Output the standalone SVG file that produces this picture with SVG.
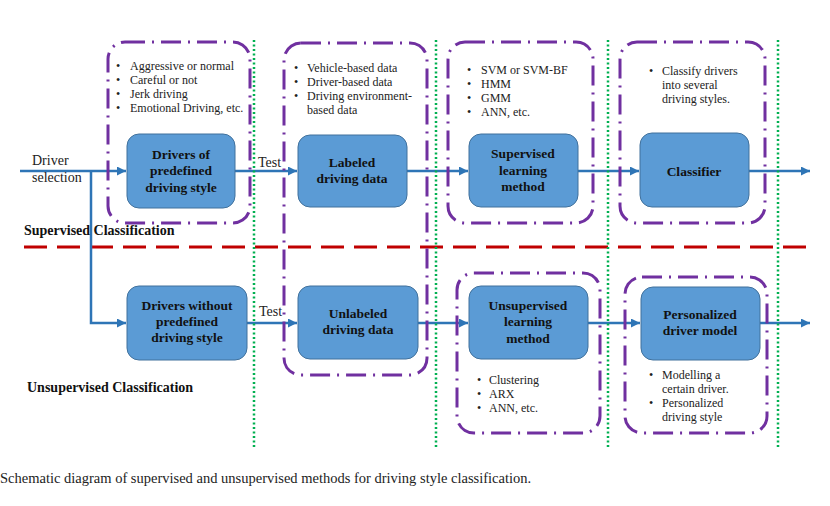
<svg xmlns="http://www.w3.org/2000/svg" width="830" height="506" viewBox="0 0 830 506">
<style>
.node rect{fill:#5B9BD5;stroke:#41719C;stroke-width:1}
.nt{font-family:"Liberation Serif","Times New Roman",serif;font-weight:bold;font-size:13.5px;fill:#111;text-anchor:middle}
.bt{font-family:"Liberation Serif","Times New Roman",serif;font-size:12px;fill:#222}
.grp{fill:none;stroke:#7030A0;stroke-width:3;stroke-dasharray:20 7 2 7}
.sep{fill:none;stroke:#00B050;stroke-width:2.5;stroke-dasharray:2 2.5}
.red{fill:none;stroke:#C00000;stroke-width:3;stroke-dasharray:23 10}
.conn{fill:none;stroke:#2E75B6;stroke-width:2.5}
.lbl{font-family:"Liberation Serif","Times New Roman",serif;font-size:14px;fill:#222}
.cap{font-family:"Liberation Serif","Times New Roman",serif;font-size:14.5px;fill:#222}
.sec{font-family:"Liberation Serif","Times New Roman",serif;font-weight:bold;font-size:14px;fill:#111}
</style>
<defs>
<marker id="arr" viewBox="0 0 10 10" refX="10" refY="5" markerWidth="5" markerHeight="3.6" markerUnits="strokeWidth" orient="auto">
<path d="M0,0 L10,5 L0,10 z" fill="#2E75B6"/>
</marker>
</defs>
<rect width="830" height="506" fill="#fff"/>

<!-- separator -->
<line class="red" x1="24" y1="247" x2="808" y2="247"/>

<!-- connectors -->
<g id="connectors">
<path class="conn" d="M20,171 H126" marker-end="url(#arr)"/>
<path class="conn" d="M91,171 V323 H126" marker-end="url(#arr)"/>
<path class="conn" d="M235,171 H297" marker-end="url(#arr)"/>
<path class="conn" d="M407,171 H468" marker-end="url(#arr)"/>
<path class="conn" d="M578,171 H639" marker-end="url(#arr)"/>
<path class="conn" d="M749,171 H810" marker-end="url(#arr)"/>
<path class="conn" d="M247,323 H297" marker-end="url(#arr)"/>
<path class="conn" d="M418,323 H468" marker-end="url(#arr)"/>
<path class="conn" d="M588,323 H640" marker-end="url(#arr)"/>
<path class="conn" d="M760,323 H810" marker-end="url(#arr)"/>
<text class="lbl" x="258" y="167">Test</text>
<text class="lbl" x="259" y="316">Test</text>
</g>

<!-- nodes -->
<g id="n1" class="node"><rect x="127" y="134" width="108" height="74" rx="12"/>
<text class="nt" x="181" y="159">Drivers of</text><text class="nt" x="181" y="175">predefined</text><text class="nt" x="181" y="192">driving style</text></g>
<g id="n2" class="node"><rect x="298" y="135" width="109" height="72" rx="12"/>
<text class="nt" x="352" y="167">Labeled</text><text class="nt" x="352" y="183">driving data</text></g>
<g id="n3" class="node"><rect x="469" y="134" width="109" height="73" rx="12"/>
<text class="nt" x="523" y="158">Supervised</text><text class="nt" x="523" y="175">learning</text><text class="nt" x="523" y="191">method</text></g>
<g id="n4" class="node"><rect x="640" y="133" width="109" height="74" rx="12"/>
<text class="nt" x="694" y="176">Classifier</text></g>
<g id="n5" class="node"><rect x="127" y="286" width="120" height="74" rx="12"/>
<text class="nt" x="187" y="310">Drivers without</text><text class="nt" x="187" y="326">predefined</text><text class="nt" x="187" y="342">driving style</text></g>
<g id="n6" class="node"><rect x="298" y="286" width="120" height="73" rx="12"/>
<text class="nt" x="358" y="318">Unlabeled</text><text class="nt" x="358" y="334">driving data</text></g>
<g id="n7" class="node"><rect x="469" y="286" width="119" height="73" rx="12"/>
<text class="nt" x="528" y="310">Unsupervised</text><text class="nt" x="528" y="326">learning</text><text class="nt" x="528" y="343">method</text></g>
<g id="n8" class="node"><rect x="641" y="287" width="119" height="73" rx="12"/>
<text class="nt" x="700" y="319">Personalized</text><text class="nt" x="700" y="335">driver model</text></g>

<!-- groups (dash-dot boxes) -->
<g id="g1"><rect class="grp" x="108" y="42" width="142" height="181" rx="17"/>
<g class="bt"><text x="116" y="70">•</text><text x="130" y="70">Aggressive or normal</text>
<text x="116" y="84">•</text><text x="130" y="84">Careful or not</text>
<text x="116" y="98">•</text><text x="130" y="98">Jerk driving</text>
<text x="116" y="112">•</text><text x="130" y="112">Emotional  Driving, etc.</text></g></g>
<g id="g2"><rect class="grp" x="284" y="43" width="143" height="332" rx="17"/>
<g class="bt"><text x="294" y="72">•</text><text x="307" y="72">Vehicle-based  data</text>
<text x="294" y="86">•</text><text x="307" y="86">Driver-based data</text>
<text x="294" y="100">•</text><text x="307" y="100">Driving environment-</text>
<text x="307" y="114">based data</text></g></g>
<g id="g3"><rect class="grp" x="448" y="42" width="145" height="181" rx="17"/>
<g class="bt"><text x="467" y="74">•</text><text x="481" y="74">SVM or SVM-BF</text>
<text x="467" y="88">•</text><text x="481" y="88">HMM</text>
<text x="467" y="102">•</text><text x="481" y="102">GMM</text>
<text x="467" y="116">•</text><text x="481" y="116">ANN, etc.</text></g></g>
<g id="g4"><rect class="grp" x="620" y="42" width="145" height="181" rx="17"/>
<g class="bt"><text x="649" y="75">•</text><text x="662" y="75">Classify drivers</text>
<text x="662" y="89">into several</text>
<text x="662" y="103">driving styles.</text></g></g>
<g id="g7"><rect class="grp" x="457" y="273" width="143" height="160" rx="17"/>
<g class="bt"><text x="477" y="384">•</text><text x="489" y="384">Clustering</text>
<text x="477" y="398">•</text><text x="489" y="398">ARX</text>
<text x="477" y="412">•</text><text x="489" y="412">ANN, etc.</text></g></g>
<g id="g8"><rect class="grp" x="625" y="277" width="142" height="156" rx="17"/>
<g class="bt"><text x="649" y="379">•</text><text x="662" y="379">Modelling  a</text>
<text x="662" y="393">certain  driver.</text>
<text x="649" y="407">•</text><text x="662" y="407">Personalized</text>
<text x="662" y="421">driving style</text></g></g>

<!-- green dotted separators -->
<g id="separators">
<line class="sep" x1="254" y1="40" x2="254" y2="447"/>
<line class="sep" x1="436" y1="40" x2="436" y2="447"/>
<line class="sep" x1="608" y1="40" x2="608" y2="447"/>
<line class="sep" x1="778" y1="40" x2="778" y2="447"/>
</g>

<text class="lbl" x="32" y="165">Driver</text>
<text class="lbl" x="32" y="182">selection</text>
<text class="sec" x="24" y="235">Supervised  Classification</text>
<text class="sec" x="27" y="392">Unsupervised Classification</text>
<text class="cap" x="0" y="483">Schematic diagram of supervised and unsupervised methods for driving style classification.</text>
</svg>
